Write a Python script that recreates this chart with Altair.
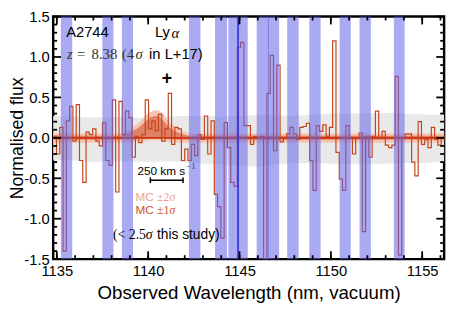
import altair as alt
import pandas as pd

# ---------------- data ----------------
spec_start = 1134.8
spec_step = 0.18
spec_flux = [0.02, -0.2, 0.13, -1.4, 0.21, 0.39, -0.04, 0.41, -0.28, -0.55,
             0.07, 0.04, 0.11, -0.04, -0.1, 0.19, -0.28, -0.34, 0.47, -0.67,
             0.45, 0.04, 0.33, 0.25, -0.24, 0.02, -0.06, 0.04, 0.47, 0.11,
             0.21, 0.09, 0.29, -0.04, 0.11, 0.55, -0.08, 0.13, 0.11, -0.28,
             -0.14, -0.28, -0.08, -0.22, 0.04, -0.02, 0.27, -0.2, 0.21, -0.7,
             -0.85, -1.24, 0.19, -0.12, -0.55, -0.6, 1.12, 1.18, 0.15, 0.15,
             -0.08, 0.02, 0.0, 0.02, -1.5, 0.55, 1.02, -0.16, 0.9, -0.05,
             0.0, 0.05, 0.13, 0.05, -0.02, 0.13, 0.14, 0.18, -0.28, -0.65,
             0.15, 0.08, 0.16, 0.02, 0.13, 1.2, -0.18, -0.51, -0.65, 0.15,
             0.0, -0.2, 0.0, 0.06, -1.16, 0.02, -0.24, 0.02, 0.33, 0.0,
             0.08, -0.09, -0.12, -0.09, 0.76, -1.45, 0.0, 0.05, 0.05, -0.3,
             -0.47, 0.2, -0.08, -0.02, -0.12, 0.13, -0.02, -0.09, 0.0]

noise_wl = [1134.8, 1136, 1137, 1138, 1139, 1140, 1141, 1142, 1143, 1144, 1145,
            1146, 1147, 1148, 1149, 1150, 1151, 1152, 1153, 1154, 1155, 1156.2]
noise_hi = [0.27, 0.26, 0.25, 0.26, 0.25, 0.25, 0.26, 0.27, 0.27, 0.26, 0.27,
            0.28, 0.28, 0.27, 0.29, 0.30, 0.30, 0.30, 0.31, 0.30, 0.29, 0.29]
noise_lo = [-0.28, -0.28, -0.30, -0.29, -0.29, -0.30, -0.29, -0.30, -0.32, -0.33, -0.34,
            -0.36, -0.33, -0.31, -0.31, -0.32, -0.32, -0.32, -0.32, -0.31, -0.31, -0.30]

mc_wl = [1134.8, 1138.3, 1138.8, 1139.2, 1139.6, 1139.9, 1140.2, 1140.5, 1140.8,
         1141.1, 1141.5, 1141.9, 1142.4, 1156.2]
mc2_hi = [0.055, 0.055, 0.08, 0.14, 0.21, 0.28, 0.33, 0.34, 0.30, 0.21, 0.13, 0.08, 0.055, 0.055]
mc2_lo = [-0.06, -0.06, -0.06, -0.055, -0.05, -0.04, -0.03, -0.03, -0.04, -0.05, -0.055, -0.06, -0.06, -0.06]
mc1_hi = [0.025, 0.025, 0.05, 0.09, 0.15, 0.21, 0.26, 0.27, 0.22, 0.14, 0.08, 0.045, 0.025, 0.025]
mc1_lo = [-0.025, -0.025, -0.025, -0.02, -0.015, 0.0, 0.01, 0.01, 0.0, -0.015, -0.02, -0.025, -0.025, -0.025]

band_lo = [1135.22, 1137.49, 1138.56, 1142.23, 1143.66, 1144.39, 1145.94, 1147.61,
           1148.82, 1150.48, 1151.57, 1153.45]
band_hi = [1135.84, 1138.10, 1139.17, 1142.86, 1144.32, 1145.45, 1147.17, 1148.24,
           1149.44, 1151.09, 1152.19, 1154.04]
sky_line_strong = [1144.92]
sky_line_faint = [1146.58]

x_major = [1135, 1140, 1145, 1150, 1155]
x_minor = [1135, 1136, 1137, 1138, 1139, 1140, 1141, 1142, 1143, 1144, 1145,
           1146, 1147, 1148, 1149, 1150, 1151, 1152, 1153, 1154, 1155, 1156]
y_major = [-1.5, -1.0, -0.5, 0.0, 0.5, 1.0, 1.5]
y_minor = [-1.4, -1.3, -1.2, -1.1, -0.9, -0.8, -0.7, -0.6, -0.4, -0.3, -0.2, -0.1,
           0.1, 0.2, 0.3, 0.4, 0.6, 0.7, 0.8, 0.9, 1.1, 1.2, 1.3, 1.4]

# ---------------- layout ----------------
W, H = 398, 247
SANS = "Liberation Sans"
SERIF = "Liberation Serif"

xs = alt.Scale(domain=[1134.8, 1156.2], nice=False, zero=False)
ys = alt.Scale(domain=[-1.5, 1.5], nice=False, zero=False)

AX = alt.Axis(values=x_major, format="d", title="Observed Wavelength (nm, vacuum)",
              labelPadding=5, titleY=34, titleX=W / 2, titleBaseline="middle",
              titleFontSize=19, grid=False, domain=False, ticks=False,
              labelFont=SANS, labelFontSize=15, labelColor="black",
              titleFont=SANS, titleFontWeight="normal", titleColor="black")
AY = alt.Axis(values=y_major, title="Normalised flux",
              labelExpr="(datum.value < 0 ? '-' : '') + format(abs(datum.value), '.1f')",
              labelPadding=4, titleX=-36, titleY=H / 2, titleBaseline="middle",
              titleAlign="center", titleAngle=270, titleFontSize=18,
              grid=False, domain=False, ticks=False,
              labelFont=SANS, labelFontSize=15, labelColor="black",
              titleFont=SANS, titleFontWeight="normal", titleColor="black")

# every layer carries the same axis definition so the shared axes merge cleanly
def X(field="wl"):
    return alt.X(f"{field}:Q", scale=xs, axis=AX)

def Y(field="flux"):
    return alt.Y(f"{field}:Q", scale=ys, axis=AY)

wl = [round(spec_start + spec_step * i, 3) for i in range(len(spec_flux))]
spec_df = pd.DataFrame({"wl": wl + [round(spec_start + spec_step * len(spec_flux), 3)],
                        "flux": spec_flux + [spec_flux[-1]]})
noise_df = pd.DataFrame({"wl": noise_wl, "hi": noise_hi, "lo": noise_lo})
mc_df = pd.DataFrame({"wl": mc_wl, "h2": mc2_hi, "l2": mc2_lo, "h1": mc1_hi, "l1": mc1_lo})
band_df = pd.DataFrame({"lo": band_lo, "hi": band_hi})

noise = alt.Chart(noise_df).mark_area(color="#e9e9e9", interpolate="linear").encode(
    x=X(), y=Y("hi"), y2="lo:Q")
mc2 = alt.Chart(mc_df).mark_area(color="#f6c4b2", interpolate="monotone").encode(
    x=X(), y=Y("h2"), y2="l2:Q")
mc1 = alt.Chart(mc_df).mark_area(color="#dc7656", opacity=0.85, interpolate="monotone").encode(
    x=X(), y=Y("h1"), y2="l1:Q")
zero = alt.Chart(pd.DataFrame({"flux": [0.0]})).mark_rule(color="#cc3010", strokeWidth=1.8).encode(
    y=Y())

spec = alt.Chart(spec_df).mark_line(color="#c4441c", strokeWidth=1.2, interpolate="step-after",
                                   clip=True).encode(x=X(), y=Y())

bands = alt.Chart(band_df).mark_rect(color="#6464e8", opacity=0.55).encode(
    x=X("lo"), x2="hi:Q", y=alt.value(0), y2=alt.value(H))
line_strong = alt.Chart(pd.DataFrame({"wl": sky_line_strong})).mark_rule(
    color="#3030d8", strokeWidth=2, opacity=0.85).encode(x=X(), y=alt.value(0), y2=alt.value(H))
line_faint = alt.Chart(pd.DataFrame({"wl": sky_line_faint})).mark_rule(
    color="#5050d0", strokeWidth=1, opacity=0.5).encode(x=X(), y=alt.value(0), y2=alt.value(H))

def xticks(vals, length):
    d = alt.Chart(pd.DataFrame({"wl": vals}))
    m = dict(color="black", strokeWidth=1.8)
    return [d.mark_rule(**m).encode(x=X(), y=alt.value(H), y2=alt.value(H - length)),
            d.mark_rule(**m).encode(x=X(), y=alt.value(0), y2=alt.value(length))]

def yticks(vals, length):
    d = alt.Chart(pd.DataFrame({"flux": vals}))
    m = dict(color="black", strokeWidth=1.8)
    return [d.mark_rule(**m).encode(y=Y(), x=alt.value(0), x2=alt.value(length)),
            d.mark_rule(**m).encode(y=Y(), x=alt.value(W), x2=alt.value(W - length))]

ticks = xticks(x_minor, 4) + xticks(x_major, 8) + yticks(y_minor, 4) + yticks(y_major, 8)

def label(txt, x, y, size=15, font=SANS, style="normal", color="black", weight="normal",
          align="left"):
    return alt.Chart(pd.DataFrame({"wl": [x], "flux": [y], "t": [txt]})).mark_text(
        align=align, baseline="middle", fontSize=size, font=font, fontStyle=style,
        fontWeight=weight, color=color).encode(x=X(), y=Y(), text="t:N")

LIGHT = "#ee9f88"
DARK = "#d2502a"
GREY = "#333333"
texts = [
    label("A2744", 1135.51, 1.306),
    label("Ly", 1140.37, 1.306),
    label("α", 1141.28, 1.29, font=SERIF, style="italic"),
    label("z", 1135.56, 1.035, font=SERIF, style="italic", color=GREY),
    label("=", 1136.10, 1.035, font=SERIF, color=GREY),
    label("8.38", 1136.90, 1.035, font=SERIF, color=GREY),
    label("(4", 1138.56, 1.035, font=SERIF, color=GREY),
    label("σ", 1139.30, 1.035, font=SERIF, style="italic", color=GREY),
    label("in L+17)", 1140.05, 1.035),
    label("+", 1141.02, 0.73, size=18, weight="bold", align="center"),
    label("250 km s", 1139.41, -0.41, size=12),
    label("−1", 1142.08, -0.35, size=9, font=SERIF, color="#444466"),
    label("MC", 1139.30, -0.738, size=12, color=LIGHT),
    label("±2", 1140.48, -0.738, size=12, font=SERIF, color=LIGHT),
    label("σ", 1141.17, -0.738, size=12, font=SERIF, style="italic", color=LIGHT),
    label("MC", 1139.30, -0.898, size=12, color=DARK),
    label("±1", 1140.48, -0.898, size=12, font=SERIF, color=DARK),
    label("σ", 1141.17, -0.898, size=12, font=SERIF, style="italic", color=DARK),
    label("(<", 1138.07, -1.2, size=14, font=SERIF),
    label("2.5", 1138.94, -1.2, size=14, font=SERIF),
    label("σ", 1139.87, -1.2, size=14, font=SERIF, style="italic"),
    label("this study)", 1140.48, -1.2, size=14),
]

bar_df = pd.DataFrame({"wl": [1140.12], "wl2": [1141.91], "flux": [-0.525]})
bar = alt.Chart(bar_df).mark_rule(color="black", strokeWidth=1.5).encode(
    x=X(), x2="wl2:Q", y=Y())
bar_ends = alt.Chart(pd.DataFrame({"wl": [1140.12, 1141.91], "flux": [-0.49, -0.49],
                                   "f2": [-0.56, -0.56]})).mark_rule(
    color="black", strokeWidth=1.5).encode(x=X(), y=Y(), y2="f2:Q")

chart = alt.layer(
    noise, mc2, mc1, zero, spec, bands, line_strong, line_faint, *ticks, *texts, bar, bar_ends
).properties(
    width=W, height=H,
    autosize=alt.AutoSizeParams(type="none"),
    padding={"left": 46, "top": 6, "right": 6, "bottom": 44},
).configure_view(
    stroke="black", strokeWidth=2.5
)

chart.save("out.html", embed_options={"renderer": "svg", "actions": False})
